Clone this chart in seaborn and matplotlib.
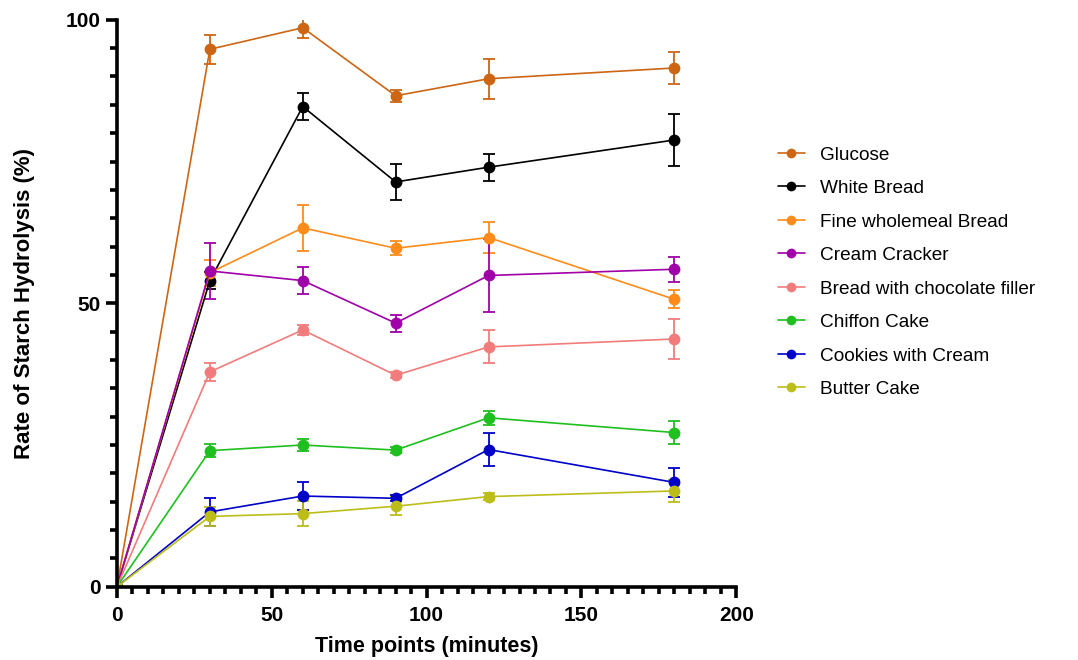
import numpy as np
import pandas as pd
import matplotlib
matplotlib.use("Agg")
import matplotlib.pyplot as plt
import seaborn as sns
from matplotlib.ticker import MultipleLocator

time_points = [0, 30, 60, 90, 120, 180]
series_names = ["Glucose", "White Bread", "Fine wholemeal Bread", "Cream Cracker",
                "Bread with chocolate filler", "Chiffon Cake", "Cookies with Cream", "Butter Cake"]

glucose = [0, 94.8, 98.6, 86.6, 89.6, 91.5]
white_bread = [0, 54.0, 84.7, 71.4, 74.0, 78.8]
wholemeal = [0, 55.4, 63.3, 59.7, 61.6, 50.7]
cream_cracker = [0, 55.7, 54.0, 46.5, 54.9, 56.0]
choc_filler = [0, 37.9, 45.3, 37.3, 42.3, 43.7]
chiffon = [0, 24.0, 25.0, 24.1, 29.8, 27.2]
cookies = [0, 13.2, 16.0, 15.6, 24.2, 18.4]
butter = [0, 12.4, 12.9, 14.2, 15.9, 16.9]

glucose_err = [0, 2.6, 1.8, 1.1, 3.5, 2.8]
white_bread_err = [0, 1.5, 2.4, 3.2, 2.4, 4.5]
wholemeal_err = [0, 2.3, 4.0, 1.2, 2.7, 1.6]
cream_cracker_err = [0, 4.9, 2.4, 1.5, 6.5, 2.2]
choc_filler_err = [0, 1.6, 0.9, 0.5, 2.9, 3.5]
chiffon_err = [0, 1.1, 1.0, 0.5, 1.2, 2.1]
cookies_err = [0, 2.4, 2.5, 0.5, 2.9, 2.5]
butter_err = [0, 1.6, 2.2, 1.6, 0.6, 1.9]

values = [glucose, white_bread, wholemeal, cream_cracker, choc_filler, chiffon, cookies, butter]
errors = [glucose_err, white_bread_err, wholemeal_err, cream_cracker_err, choc_filler_err,
          chiffon_err, cookies_err, butter_err]
colors = ["#CD6614", "#000000", "#FF8C1A", "#A000A8", "#F27C7C", "#1FBF1F", "#0000C8", "#BDBD1A"]

rows = []
for name, vals, errs in zip(series_names, values, errors):
    for t, v, e in zip(time_points, vals, errs):
        rows.append({"Time": t, "Rate": v, "Err": e, "Food": name})
df = pd.DataFrame(rows)

sns.set_theme(style="ticks")
plt.rcParams['font.family'] = ['Liberation Sans', 'DejaVu Sans']
plt.rcParams['text.color'] = 'black'
plt.rcParams['axes.labelcolor'] = 'black'
plt.rcParams['xtick.color'] = 'black'
plt.rcParams['ytick.color'] = 'black'
plt.rcParams['axes.edgecolor'] = 'black'

fig = plt.figure(figsize=(10.78, 6.6), dpi=100)
ax = fig.add_axes([0.1085, 0.111, 0.5745, 0.859])

palette = dict(zip(series_names, colors))
sns.lineplot(data=df, x="Time", y="Rate", hue="Food", palette=palette, hue_order=series_names,
             marker="o", markersize=8.5, markeredgewidth=0, linewidth=1.2, ax=ax, legend=True)

for name in series_names:
    sub = df[df["Food"] == name]
    ax.errorbar(sub["Time"], sub["Rate"], yerr=sub["Err"], fmt="none", ecolor=palette[name],
                elinewidth=1.3, capsize=4, capthick=1.3, zorder=1)

ax.set_xlim(0, 200)
ax.set_ylim(0, 100)
ax.set_xticks([0, 50, 100, 150, 200])
ax.set_yticks([0, 50, 100])
ax.xaxis.set_minor_locator(MultipleLocator(5))
ax.yaxis.set_minor_locator(MultipleLocator(5))
sns.despine(ax=ax)
for s in ["left", "bottom"]:
    ax.spines[s].set_linewidth(2.6)
ax.tick_params(which="major", length=8, width=2.6, labelsize=15, direction="out")
ax.tick_params(axis="x", which="major", pad=6)
ax.tick_params(which="minor", length=5, width=2.6, direction="out")
for lab in ax.get_xticklabels() + ax.get_yticklabels():
    lab.set_fontweight("bold")

ax.set_xlabel("Time points (minutes)", fontsize=15.5, fontweight="bold", labelpad=8)
ax.set_ylabel("Rate of Starch Hydrolysis (%)", fontsize=16, fontweight="bold", labelpad=22)

leg = ax.legend(loc="upper left", bbox_to_anchor=(1.04, 0.807), frameon=False, fontsize=13.7,
                handlelength=1.4, labelspacing=0.85, handletextpad=0.8)
for h in leg.legend_handles:
    h.set_markersize(7)

fig.savefig("out.png", dpi=100)
